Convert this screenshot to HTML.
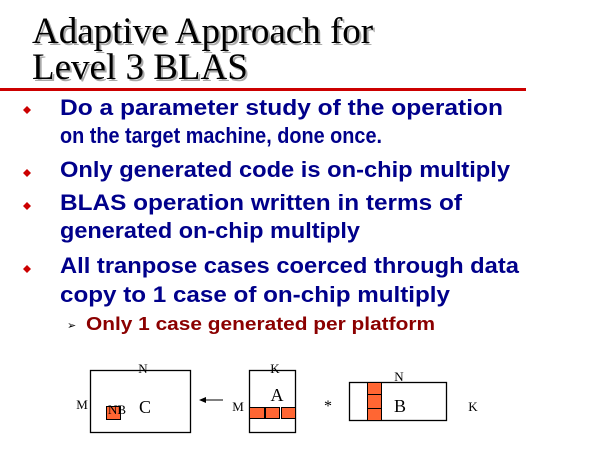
<!DOCTYPE html>
<html><head><style>body{margin:0;background:#fff}svg{display:block}</style></head><body>
<svg width="600" height="450" xmlns="http://www.w3.org/2000/svg">
<g font-family="Liberation Serif, serif" font-size="37">
<text x="34" y="45" fill="#aaa">Adaptive Approach for</text>
<text x="34" y="81" fill="#aaa">Level 3 BLAS</text>
<text x="32" y="43" fill="#000">Adaptive Approach for</text>
<text x="32" y="79" fill="#000">Level 3 BLAS</text>
</g>
<rect x="0" y="88" width="526" height="3" fill="#c00"/>
<g fill="#c00">
<path d="M27 106 L31 110 L27 114 L23 110Z"/>
<path d="M27 169 L31 173 L27 177 L23 173Z"/>
<path d="M27 202 L31 206 L27 210 L23 206Z"/>
<path d="M27 265 L31 269 L27 273 L23 269Z"/>
</g>
<g font-family="Liberation Sans, sans-serif" font-weight="bold" font-size="22" fill="#00008b">
<text x="60" y="115" textLength="443" lengthAdjust="spacingAndGlyphs">Do a parameter study of the operation</text>
<text x="60" y="143" textLength="322" lengthAdjust="spacingAndGlyphs">on the target machine, done once.</text>
<text x="60" y="177" textLength="450" lengthAdjust="spacingAndGlyphs">Only generated code is on-chip multiply</text>
<text x="60" y="210" textLength="402" lengthAdjust="spacingAndGlyphs">BLAS operation written in terms of</text>
<text x="60" y="238" textLength="300" lengthAdjust="spacingAndGlyphs">generated on-chip multiply</text>
<text x="60" y="273" textLength="459" lengthAdjust="spacingAndGlyphs">All tranpose cases coerced through data</text>
<text x="60" y="302" textLength="390" lengthAdjust="spacingAndGlyphs">copy to 1 case of on-chip multiply</text>
</g>
<text x="67" y="329" font-family="DejaVu Sans, sans-serif" font-size="11" fill="#000">➢</text>
<text x="86" y="330" font-family="Liberation Sans, sans-serif" font-weight="bold" font-size="18" fill="#8b0000" textLength="349" lengthAdjust="spacingAndGlyphs">Only 1 case generated per platform</text>
<g stroke="#000" stroke-width="1.3" fill="none">
<rect x="90.5" y="370.5" width="100" height="62"/>
<rect x="249.5" y="370.5" width="46" height="62"/>
<rect x="349.5" y="382.5" width="97" height="38"/>
</g>
<g fill="#ff6633" stroke="#000" stroke-width="1">
<rect x="106.5" y="406.5" width="14" height="13"/>
<rect x="249.5" y="407.5" width="15" height="11"/>
<rect x="265.5" y="407.5" width="14" height="11"/>
<rect x="281.5" y="407.5" width="14" height="11"/>
<rect x="367.5" y="382.5" width="14" height="12"/>
<rect x="367.5" y="394.5" width="14" height="14"/>
<rect x="367.5" y="408.5" width="14" height="12"/>
</g>
<line x1="223" y1="400" x2="203" y2="400" stroke="#000" stroke-width="1"/>
<path d="M199 400 L206 397 L206 403Z" fill="#000"/>
<g font-family="Liberation Serif, serif" fill="#000">
<text x="143" y="373" font-size="13" text-anchor="middle">N</text>
<text x="82" y="409" font-size="13" text-anchor="middle">M</text>
<text x="117" y="414" font-size="13" text-anchor="middle">NB</text>
<text x="145" y="413" font-size="18" text-anchor="middle">C</text>
<text x="275" y="373" font-size="13" text-anchor="middle">K</text>
<text x="277" y="401" font-size="18" text-anchor="middle">A</text>
<text x="238" y="411" font-size="13" text-anchor="middle">M</text>
<text x="328" y="411" font-size="16" text-anchor="middle">*</text>
<text x="399" y="381" font-size="13" text-anchor="middle">N</text>
<text x="400" y="412" font-size="18" text-anchor="middle">B</text>
<text x="473" y="411" font-size="13" text-anchor="middle">K</text>
</g>
</svg>
</body></html>
